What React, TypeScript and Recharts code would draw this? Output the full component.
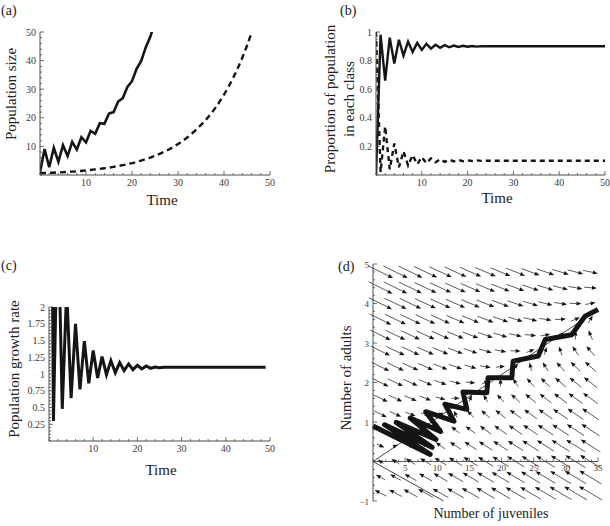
import React from 'react';
import { LineChart, ComposedChart, Line, Scatter, XAxis, YAxis, ReferenceLine } from 'recharts';

// (a) population size over time
const popTimes = [0, 1, 2, 3, 4, 5, 6, 7, 8, 9, 10, 11, 12, 13, 14, 15, 16, 17, 18, 19, 20, 21, 22, 23, 24, 25];
const popTotal = [0.9, 9.1, 2.7, 9.5, 4.6, 10.4, 6.6, 11.6, 8.9, 13.2, 11.4, 15.4, 14.4, 18.1, 17.9, 21.5, 22.0, 25.7, 26.9, 30.8, 32.8, 37.1, 39.9, 44.7, 48.4, 53.7];
const smoothTimes = [0, 2, 4, 6, 8, 10, 12, 14, 16, 18, 20, 22, 24, 26, 28, 30, 32, 34, 36, 38, 40, 42, 44, 46, 48];
const smoothTotal = [0.6, 0.75, 0.9, 1.1, 1.3, 1.6, 1.95, 2.35, 2.85, 3.45, 4.15, 5.05, 6.1, 7.4, 8.9, 10.8, 13.1, 15.9, 19.2, 23.2, 28.1, 34.0, 41.1, 49.8, 60.2];

// (b) proportion in each class
const shareTimes = [0, 1, 2, 3, 4, 5, 6, 7, 8, 9, 10, 11, 12, 13, 14, 15, 16, 17, 18, 19, 20, 21, 22, 23, 24, 50];
const juvenileShare = [0, 0.98, 0.66, 0.96, 0.78, 0.946, 0.835, 0.933, 0.861, 0.924, 0.875, 0.917, 0.884, 0.911, 0.89, 0.908, 0.893, 0.905, 0.895, 0.904, 0.897, 0.902, 0.898, 0.901, 0.9, 0.9];
const adultShare = [1, 0.02, 0.34, 0.04, 0.22, 0.054, 0.165, 0.067, 0.139, 0.076, 0.125, 0.083, 0.116, 0.089, 0.11, 0.092, 0.107, 0.095, 0.105, 0.096, 0.103, 0.098, 0.102, 0.099, 0.1, 0.1];

// (c) growth rate
const rateTimes = [0, 1, 2, 3, 4, 5, 6, 7, 8, 9, 10, 11, 12, 13, 14, 15, 16, 17, 18, 19, 20, 21, 22, 23, 24, 25, 26, 49];
const growthRate = [10.1, 0.3, 3.52, 0.48, 2.26, 0.64, 1.75, 0.77, 1.49, 0.86, 1.35, 0.94, 1.26, 0.99, 1.2, 1.02, 1.17, 1.05, 1.15, 1.065, 1.13, 1.075, 1.12, 1.085, 1.105, 1.095, 1.1, 1.1];

// (d) phase plane
const trajJuveniles = [0, 8.9, 1.8, 9.2, 3.6, 9.8, 5.8, 10.5, 8.2, 12.6, 11.2, 14.6, 14.0, 17.7, 17.9, 21.6, 21.8, 25.7, 26.8, 30.9, 33.0, 35.0];
const trajAdults = [0.9, 0.18, 0.93, 0.36, 0.99, 0.56, 1.1, 0.76, 1.26, 1.02, 1.45, 1.32, 1.76, 1.74, 2.12, 2.12, 2.54, 2.67, 3.09, 3.21, 3.68, 3.85];
const stableJuveniles = [0, 35];
const stableAdults = [0, 3.85];
const otherJuveniles = [0, 11];
const otherAdults = [0, -1];
const gridJuveniles = [1.17, 3.5, 5.83, 8.17, 10.5, 12.83, 15.17, 17.5, 19.83, 22.17, 24.5, 26.83, 29.17, 31.5, 33.83];
const gridAdults = [-0.8, -0.4, 0, 0.4, 0.8, 1.2, 1.6, 2.0, 2.4, 2.8, 3.2, 3.6, 4.0, 4.4, 4.8];
// stage matrix behind the arrows (juvenile fecundity, survival)
const projection = [[0, 9.9], [0.1, 0.2]];

// tick labels
const timeLabels = [10, 20, 30, 40, 50];
const sizeLabels = [10, 20, 30, 40, 50];
const shareLabels = [0.2, 0.4, 0.6, 0.8, 1];
const rateLabels = [0.25, 0.5, 0.75, 1, 1.25, 1.5, 1.75, 2];
const juvLabels = [5, 10, 15, 20, 25, 30, 35];
const adultLabels = [-1, 1, 2, 3, 4, 5];

const AXIS = '#4a4a4a';
const TICKTXT = '#3a3a3a';
const INK = '#151515';
const SERIF = '"Liberation Serif", "DejaVu Serif", serif';

function steps(from: number, to: number, step: number) {
  const out: number[] = [];
  const n = Math.round((to - from) / step);
  for (let i = 0; i <= n; i++) out.push(+(from + i * step).toFixed(4));
  return out;
}
const isIn = (list: number[], v: number) => list.some(l => Math.abs(l - v) < 1e-6);
const fmt = (v: number) => (v < 0 ? '\u2212' + Math.abs(v) : String(v));

const bottomTick = (axisY: number, labels: number[], fs = 10) => (props: any) => {
  const { x, payload } = props;
  const major = isIn(labels, payload.value);
  return (
    <g>
      <line x1={x} x2={x} y1={axisY} y2={axisY - (major ? 4 : 2)} stroke={AXIS} strokeWidth={0.8} />
      {major && (
        <text x={x} y={axisY + 11} textAnchor="middle" fontSize={fs} fill={TICKTXT} fontFamily={SERIF}>
          {fmt(payload.value)}
        </text>
      )}
    </g>
  );
};

const leftTick = (axisX: number, labels: number[], fs = 10) => (props: any) => {
  const { y, payload } = props;
  const major = isIn(labels, payload.value);
  return (
    <g>
      <line x1={axisX} x2={axisX + (major ? 4 : 2)} y1={y} y2={y} stroke={AXIS} strokeWidth={0.8} />
      {major && (
        <text x={axisX - 4} y={y + 3.5} textAnchor="end" fontSize={fs} fill={TICKTXT} fontFamily={SERIF}>
          {fmt(payload.value)}
        </text>
      )}
    </g>
  );
};

const rows = (xs: number[], ys: number[], xk: string, yk: string) => xs.map((x, i) => ({ [xk]: x, [yk]: ys[i] }));

const popRows = rows(popTimes, popTotal, 't', 'v');
const smoothRows = rows(smoothTimes, smoothTotal, 't', 'v');
const juvRows = rows(shareTimes, juvenileShare, 't', 'v');
const adultRows = rows(shareTimes, adultShare, 't', 'v');
const rateRows = rows(rateTimes, growthRate, 't', 'v');
const trajRows = rows(trajJuveniles, trajAdults, 'J', 'A');
const stableRows = rows(stableJuveniles, stableAdults, 'J', 'A');
const otherRows = rows(otherJuveniles, otherAdults, 'J', 'A');
const fieldRows = gridAdults.flatMap(A =>
  gridJuveniles.map(J => ({
    J,
    A,
    dJ: projection[0][0] * J + projection[0][1] * A - J,
    dA: projection[1][0] * J + projection[1][1] * A - A,
  }))
);
const juvTickRows = steps(0, 35, 1).map(J => ({ J, A: 0 }));

// panel (d) geometry
const D_W = 305, D_H = 276;
const D_M = { top: 14, right: 12, bottom: 25, left: 67 };
const pxPerJ = (D_W - D_M.left - 1 - D_M.right) / 35;
const pxPerA = (D_H - D_M.top - D_M.bottom) / 6;

const Arrow = (props: any) => {
  const { cx, cy, payload } = props;
  const vx = payload.dJ * pxPerJ;
  const vy = -payload.dA * pxPerA;
  const mag = Math.hypot(vx, vy);
  if (!mag) return <g />;
  const ux = vx / mag, uy = vy / mag;
  const len = 4 + 24 * Math.pow(Math.min(mag / 330, 1), 0.6);
  const head = 5, half = 2;
  const L = Math.max(len, head);
  const tipX = cx + (ux * L) / 2, tipY = cy + (uy * L) / 2;
  const tailX = cx - (ux * L) / 2, tailY = cy - (uy * L) / 2;
  const bx = tipX - ux * head, by = tipY - uy * head;
  const pts = `${tipX},${tipY} ${bx - uy * half},${by + ux * half} ${bx + uy * half},${by - ux * half}`;
  return (
    <g>
      {len > head && <line x1={tailX} y1={tailY} x2={bx} y2={by} stroke={INK} strokeWidth={0.7} />}
      <polygon points={pts} fill={INK} />
    </g>
  );
};

const JuvTick = (props: any) => {
  const { cx, cy, payload } = props;
  const major = isIn(juvLabels, payload.J);
  return (
    <g>
      <line x1={cx} x2={cx} y1={cy} y2={cy - (major ? 4 : 2)} stroke={AXIS} strokeWidth={0.8} />
      {major && (
        <text x={cx} y={cy + 9} textAnchor="middle" fontSize={9} fill={TICKTXT} fontFamily={SERIF}>
          {fmt(payload.J)}
        </text>
      )}
    </g>
  );
};

const box = (left: number, top: number): React.CSSProperties => ({ position: 'absolute', left, top });

export default function App() {
  return (
    <div style={{ position: 'absolute', left: 0, top: 0, width: 610, height: 526, background: '#fff', overflow: 'hidden', fontFamily: SERIF }}>
      {/* (a) */}
      <div style={box(0, 0)}>
        <LineChart width={300} height={215} margin={{ top: 32, right: 30, bottom: 39, left: 39 }}>
          <XAxis type="number" dataKey="t" domain={[0, 50]} ticks={steps(0, 50, 2)} interval={0} height={1}
            tickLine={false} tickSize={0} axisLine={{ stroke: AXIS }} tick={bottomTick(175, timeLabels)} allowDataOverflow />
          <YAxis type="number" domain={[0, 50]} ticks={steps(0, 50, 2)} interval={0} width={1}
            tickLine={false} tickSize={0} axisLine={{ stroke: AXIS }} tick={leftTick(40, sizeLabels)} allowDataOverflow />
          <Line data={smoothRows} dataKey="v" type="monotone" stroke={INK} strokeWidth={2.4} strokeDasharray="6 4"
            dot={false} activeDot={false} isAnimationActive={false} />
          <Line data={popRows} dataKey="v" type="linear" stroke={INK} strokeWidth={2.6}
            dot={false} activeDot={false} isAnimationActive={false} />
        </LineChart>
      </div>

      {/* (b) */}
      <div style={box(305, 0)}>
        <LineChart width={305} height={215} margin={{ top: 32, right: 5, bottom: 39, left: 70 }}>
          <XAxis type="number" dataKey="t" domain={[0, 50]} ticks={steps(0, 50, 2)} interval={0} height={1}
            tickLine={false} tickSize={0} axisLine={{ stroke: AXIS }} tick={bottomTick(175, timeLabels)} allowDataOverflow />
          <YAxis type="number" domain={[0, 1]} ticks={steps(0, 1, 0.05)} interval={0} width={1}
            tickLine={false} tickSize={0} axisLine={{ stroke: AXIS }} tick={leftTick(71, shareLabels)} allowDataOverflow />
          <Line data={adultRows} dataKey="v" type="linear" stroke={INK} strokeWidth={2.4} strokeDasharray="5 4"
            dot={false} activeDot={false} isAnimationActive={false} />
          <Line data={juvRows} dataKey="v" type="linear" stroke={INK} strokeWidth={2.4}
            dot={false} activeDot={false} isAnimationActive={false} />
        </LineChart>
      </div>

      {/* (c) */}
      <div style={box(0, 250)}>
        <LineChart width={300} height={215} margin={{ top: 57, right: 30, bottom: 23, left: 48 }}>
          <XAxis type="number" dataKey="t" domain={[0, 50]} ticks={steps(0, 50, 2)} interval={0} height={1}
            tickLine={false} tickSize={0} axisLine={{ stroke: AXIS }} tick={bottomTick(191, timeLabels)} allowDataOverflow />
          <YAxis type="number" domain={[0, 2]} ticks={steps(0, 2, 0.05)} interval={0} width={1}
            tickLine={false} tickSize={0} axisLine={{ stroke: AXIS }} tick={leftTick(49, rateLabels)} allowDataOverflow />
          <Line data={rateRows} dataKey="v" type="linear" stroke={INK} strokeWidth={3}
            dot={false} activeDot={false} isAnimationActive={false} />
        </LineChart>
      </div>

      {/* (d) */}
      <div style={box(305, 250)}>
        <ComposedChart width={D_W} height={D_H} margin={D_M}>
          <XAxis type="number" dataKey="J" domain={[0, 35]} hide />
          <YAxis type="number" dataKey="A" domain={[-1, 5]} ticks={steps(-1, 5, 0.2)} interval={0} width={1}
            tickLine={false} tickSize={0} axisLine={{ stroke: AXIS }} tick={leftTick(D_M.left + 1, adultLabels, 9)} />
          <ReferenceLine y={0} stroke={AXIS} strokeWidth={0.9} />
          <Scatter data={fieldRows} shape={Arrow} isAnimationActive={false} />
          <Line data={otherRows} dataKey="A" type="linear" stroke={INK} strokeWidth={0.8}
            dot={false} activeDot={false} isAnimationActive={false} />
          <Line data={stableRows} dataKey="A" type="linear" stroke={INK} strokeWidth={0.8}
            dot={false} activeDot={false} isAnimationActive={false} />
          <Line data={trajRows} dataKey="A" type="linear" stroke={INK} strokeWidth={5} strokeLinejoin="round"
            dot={false} activeDot={false} isAnimationActive={false} />
          <Scatter data={juvTickRows} shape={JuvTick} isAnimationActive={false} />
        </ComposedChart>
      </div>

      {/* titles */}
      <svg width={610} height={526} style={{ position: 'absolute', left: 0, top: 0, pointerEvents: 'none' }} fontFamily={SERIF} fill="#222">
        <text x={1} y={15} fontSize={14}>(a)</text>
        <text x={16} y={94} fontSize={15} textAnchor="middle" transform="rotate(-90 16 94)">Population size</text>
        <text x={162} y={205} fontSize={15} textAnchor="middle">Time</text>

        <text x={340} y={15} fontSize={14}>(b)</text>
        <text x={335} y={99} fontSize={15} textAnchor="middle" transform="rotate(-90 335 99)">Proportion of population</text>
        <text x={354} y={99} fontSize={15} textAnchor="middle" transform="rotate(-90 354 99)">in each class</text>
        <text x={497} y={203} fontSize={15} textAnchor="middle">Time</text>

        <text x={1} y={270} fontSize={14}>(c)</text>
        <text x={19} y={369} fontSize={15} textAnchor="middle" transform="rotate(-90 19 369)">Population growth rate</text>
        <text x={161} y={475} fontSize={15} textAnchor="middle">Time</text>

        <text x={338} y={271} fontSize={14}>(d)</text>
        <text x={351} y={378} fontSize={15} textAnchor="middle" transform="rotate(-90 351 378)">Number of adults</text>
        <text x={491} y={518} fontSize={14} textAnchor="middle">Number of juveniles</text>
      </svg>
    </div>
  );
}
